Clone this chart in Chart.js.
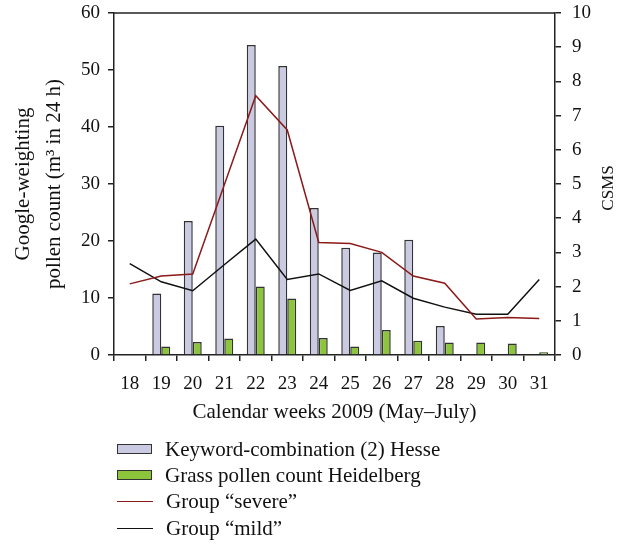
<!DOCTYPE html>
<html>
<head>
<meta charset="utf-8">
<script src="https://cdn.jsdelivr.net/npm/chart.js@4/dist/chart.umd.min.js"></script>
<style>
  html, body { margin: 0; padding: 0; background: #fff; }
  #wrap { position: relative; width: 632px; height: 544px; }
  #leyenda { position: absolute; left: 117px; top: 436px; font-family: "Liberation Serif", serif; font-size: 21px; color: #111; }
  .item { height: 26.3px; display: flex; align-items: center; }
  .caja { width: 33px; height: 8px; border: 1.5px solid #333; margin-right: 13px; }
  .linea { width: 36px; height: 0; border-top: 1.5px solid; margin-right: 13px; }
</style>
</head>
<body>
<div id="wrap">
  <canvas id="grafica" width="632" height="544"></canvas>
  <div id="leyenda"></div>
</div>
<script>
const semanas = ['18', '19', '20', '21', '22', '23', '24', '25', '26', '27', '28', '29', '30', '31'];
const busquedaHesse = [null, 10.8, 23.5, 40.2, 54.4, 50.7, 25.8, 18.8, 18.0, 20.2, 5.1, null, null, null];
const polenHeidelberg = [null, 1.5, 2.3, 2.9, 12.0, 9.9, 3.0, 1.5, 4.4, 2.5, 2.2, 2.2, 2.0, 0.5];
const grupoSevero = [2.08, 2.31, 2.37, 4.97, 7.58, 6.58, 3.29, 3.26, 3.0, 2.31, 2.1, 1.05, 1.1, 1.07];
const grupoLeve = [2.67, 2.14, 1.88, 2.64, 3.39, 2.21, 2.37, 1.89, 2.17, 1.66, 1.4, 1.19, 1.19, 2.21];
const ticksIzq = [0, 10, 20, 30, 40, 50, 60];
const ticksDer = [0, 1, 2, 3, 4, 5, 6, 7, 8, 9, 10];

const FAMILIA = '"Liberation Serif", serif';
const fuenteTicks = { family: FAMILIA, size: 19 };
const fuenteTitulo = { family: FAMILIA, size: 21 };
const COLOR_TEXTO = '#111';

// marco: linea superior y titulo derecho (girado como en la figura)
const marcoSuperior = {
  id: 'marcoSuperior',
  afterDraw(chart) {
    const { ctx, chartArea } = chart;
    ctx.save();
    ctx.strokeStyle = '#222';
    ctx.lineWidth = 1.5;
    ctx.beginPath();
    ctx.moveTo(chartArea.left, chartArea.top);
    ctx.lineTo(chartArea.right, chartArea.top);
    ctx.stroke();

    ctx.translate(609, (chartArea.top + chartArea.bottom) / 2 + 4);
    ctx.rotate(-Math.PI / 2);
    ctx.fillStyle = COLOR_TEXTO;
    ctx.font = '17px ' + FAMILIA;
    ctx.textAlign = 'center';
    ctx.textBaseline = 'middle';
    ctx.fillText('CSMS', 0, 0);
    ctx.restore();
  }
};

// anchos fijos para que el area de trazado quede donde en la figura
function fijarAncho(ancho) {
  return (escala) => {
    escala.width = ancho;
    escala.paddingTop = 0;
    escala.paddingBottom = 0;
  };
}

const datasets = [
  {
    type: 'line',
    label: 'Group \u201csevere\u201d',
    data: grupoSevero,
    yAxisID: 'y1',
    borderColor: '#8b1a1a',
    borderWidth: 1.5,
    pointRadius: 0,
    tension: 0,
    order: 0
  },
  {
    type: 'line',
    label: 'Group \u201cmild\u201d',
    data: grupoLeve,
    yAxisID: 'y1',
    borderColor: '#111',
    borderWidth: 1.5,
    pointRadius: 0,
    tension: 0,
    order: 0
  },
  {
    type: 'bar',
    label: 'Keyword-combination (2) Hesse',
    data: busquedaHesse,
    yAxisID: 'y',
    backgroundColor: '#cbcae3',
    borderColor: '#333',
    borderWidth: 1.5,
    categoryPercentage: 0.57,
    barPercentage: 1,
    order: 1
  },
  {
    type: 'bar',
    label: 'Grass pollen count Heidelberg',
    data: polenHeidelberg,
    yAxisID: 'y',
    backgroundColor: '#8cc43c',
    borderColor: '#333',
    borderWidth: 1.5,
    categoryPercentage: 0.57,
    barPercentage: 1,
    order: 1
  }
];

const ctx = document.getElementById('grafica').getContext('2d');
new Chart(ctx, {
  type: 'bar',
  data: { labels: semanas, datasets: datasets },
  options: {
    responsive: false,
    animation: false,
    layout: { padding: { left: 0, right: 0, top: 13, bottom: 0 } },
    plugins: { legend: { display: false }, tooltip: { enabled: false } },
    scales: {
      x: {
        offset: true,
        afterFit: (escala) => { escala.height = 189; escala.paddingLeft = 0; escala.paddingRight = 0; },
        grid: { offset: true, drawOnChartArea: false, drawTicks: true, tickLength: 6, color: '#222', lineWidth: 1.5 },
        border: { color: '#222', width: 1.5 },
        ticks: { color: COLOR_TEXTO, font: fuenteTicks, padding: 12, maxRotation: 0 },
        title: { display: true, text: 'Calendar weeks 2009 (May\u2013July)', color: COLOR_TEXTO, font: fuenteTitulo, padding: { top: 0, bottom: 119 } }
      },
      y: {
        position: 'left',
        min: 0,
        max: 60,
        afterFit: fijarAncho(114),
        afterBuildTicks: (escala) => { escala.ticks = ticksIzq.map(v => ({ value: v })); },
        grid: { drawOnChartArea: false, tickLength: 6, color: '#222', lineWidth: 1.5 },
        border: { color: '#222', width: 1.5 },
        ticks: { color: COLOR_TEXTO, font: fuenteTicks, padding: 8 },
        title: {
          display: true,
          text: ['Google-weighting', 'pollen count (m\u00b3 in 24 h)'],
          color: COLOR_TEXTO,
          font: { family: FAMILIA, size: 21, lineHeight: 1.48 },
          padding: { top: 8, bottom: 0 }
        }
      },
      y1: {
        position: 'right',
        min: 0,
        max: 10,
        afterFit: fijarAncho(77),
        afterBuildTicks: (escala) => { escala.ticks = ticksDer.map(v => ({ value: v })); },
        grid: { drawOnChartArea: false, tickLength: 6, color: '#222', lineWidth: 1.5 },
        border: { color: '#222', width: 1.5 },
        ticks: { color: COLOR_TEXTO, font: fuenteTicks, padding: 11 }
      }
    }
  },
  plugins: [marcoSuperior]
});

// leyenda en HTML
const leyenda = document.getElementById('leyenda');
const ordenLeyenda = [2, 3, 0, 1];
ordenLeyenda.forEach(i => {
  const ds = datasets[i];
  const fila = document.createElement('div');
  fila.className = 'item';
  const muestra = document.createElement('span');
  if (ds.type === 'bar') {
    muestra.className = 'caja';
    muestra.style.background = ds.backgroundColor;
  } else {
    muestra.className = 'linea';
    muestra.style.borderTopColor = ds.borderColor;
  }
  const texto = document.createElement('span');
  texto.textContent = ds.label;
  fila.appendChild(muestra);
  fila.appendChild(texto);
  leyenda.appendChild(fila);
});
</script>
</body>
</html>
